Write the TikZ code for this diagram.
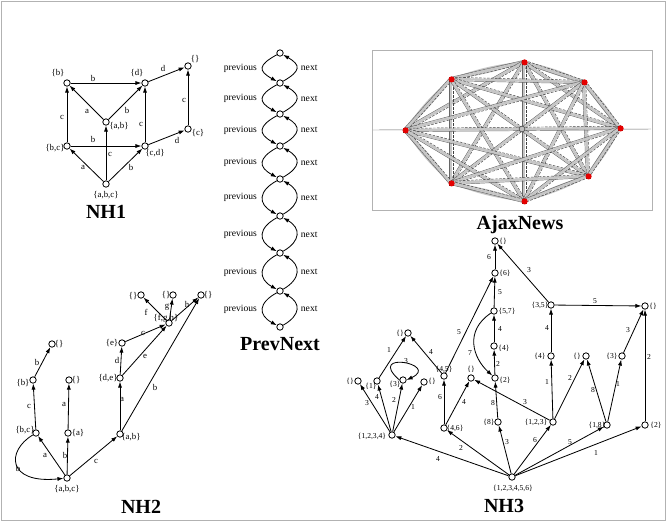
\documentclass[tikz,border=0pt]{standalone}
\usepackage{fontspec}
\setmainfont{Liberation Serif}
\usetikzlibrary{arrows.meta,calc}

\tikzset{
  v/.style={circle,draw,fill=white,inner sep=0pt,minimum size=4.8pt,line width=0.6pt},
  arr/.style={line width=0.62pt,-{Latex[length=4.5pt,width=3.1pt]}},
  lbl/.style={inner sep=0pt,font=\fontsize{6.6}{7}\selectfont},
  lbs/.style={inner sep=0pt,font=\fontsize{5.7}{6}\selectfont},
  pn/.style={inner sep=0pt,font=\fontsize{7.2}{8}\selectfont},
  title/.style={inner sep=0pt,font=\fontsize{15}{16}\selectfont\bfseries},
  web/.style={gray!45,line width=1.8pt},
  webdash/.style={black!75,line width=0.35pt,dash pattern=on 2pt off 1pt},
  webthin/.style={black!60,line width=0.35pt},
}
% vertex with its caption: [caption style]{name}{x,y}{caption x,y}{caption}
\newcommand\vtx[5][lbl]{\node[v] (#2) at (#3) {}; \node[#1] (#2-t) at (#4) {#5};}

\begin{document}
\begin{tikzpicture}[x=0.75pt,y=-0.75pt]
\useasboundingbox (0,0) rectangle (667,522);
\draw[gray!60,line width=0.5pt] (1.5,1.5) rectangle (665.5,520.5);

%% ---------------- NH1 ----------------
\vtx{ab}{67,83}{58,73}{\{b\}}
\vtx{ad}{145,83}{137,73}{\{d\}}
\vtx{ae}{188,66}{195,59}{\{\}}
\vtx{aab}{106,122}{119,126}{\{a,b\}}
\vtx{ac}{188,129}{198,133}{\{c\}}
\vtx{abc}{67,146}{55,148}{\{b,c\}}
\vtx{acd}{145,146}{155,153}{\{c,d\}}
\vtx{aabc}{106,184}{106,195}{\{a,b,c\}}
\draw[arr] (ab) -- (ad) node[lbl] at (93,78) {b};
\draw[arr] (ad) -- (ae) node[lbl] at (163,68) {d};
\draw[arr] (aab) -- (ab) node[lbl] at (87,111) {a};
\draw[arr] (aab) -- (ad) node[lbl] at (127,110) {b};
\draw[arr] (abc) -- (ab) node[lbl] at (62,117) {c};
\draw[arr] (acd) -- (ad) node[lbl] at (141,124) {c};
\draw[arr] (ac) -- (ae) node[lbl] at (184,100) {c};
\draw[arr] (abc) -- (acd) node[lbl] at (93,139) {b};
\draw[arr] (acd) -- (ac) node[lbl] at (177,140) {d};
\draw[arr] (aabc) -- (abc) node[lbl] at (83,167) {a};
\draw[arr] (aabc) -- (aab) node[lbl] at (110,154) {c};
\draw[arr] (aabc) -- (acd) node[lbl] at (131,167) {b};
\node[title] (ttl1) at (106,212) {NH1};

%% ---------------- PrevNext ----------------
\foreach \k/\y in {1/53,2/83,3/114,4/146,5/179,6/216,7/253,8/291,9/327}
  \node[v] (p\k) at (280,\y) {};
\foreach \i/\j in {1/2,2/3,3/4,4/5,5/6,6/7,7/8,8/9}{
  \draw[arr] (p\i) .. controls +(-22,12) and +(-22,-12) .. (p\j)
    node[pn,pos=.5,left=4pt] {previous};
  \draw[arr] (p\j) .. controls +(21,-12) and +(21,12) .. (p\i)
    node[pn,pos=.5,right=3pt] {next};
}
\node[title] (ttl2) at (280,344) {PrevNext};

%% ---------------- AjaxNews ----------------
\coordinate (A1) at (524,62);
\coordinate (A2) at (451,79);
\coordinate (A3) at (584,82);
\coordinate (A4) at (405,130);
\coordinate (A5) at (620,128);
\coordinate (A6) at (451,183);
\coordinate (A7) at (588,176);
\coordinate (A8) at (524,201);
\coordinate (AC) at (522,129);
\draw[gray!60,line width=0.6pt] (372,50) rectangle (652,210);
\draw[webthin] (373,130) -- (651,129);
\foreach \i/\j in {1/3,3/5,5/7,7/8,8/6,6/4,4/2,2/1}{
  \draw[gray!45,line width=0.9pt] (A\i) to[bend left=7] (A\j);
  \draw[black!45,line width=0.3pt,dash pattern=on 2pt off 1pt] (A\i) to[bend left=4] (A\j);
  \draw[gray!45,line width=0.9pt] (A\i) to[bend right=5] (A\j);
}
\foreach \i in {1,...,7}{
  \pgfmathtruncatemacro\kk{\i+1}
  \foreach \j in {\kk,...,8}{
    \draw[web] (A\i) -- (A\j);
    \draw[webdash] ($(A\i)!1.3pt!90:(A\j)$) -- ($(A\j)!1.3pt!-90:(A\i)$);
    \draw[webthin] ($(A\i)!1.3pt!-90:(A\j)$) -- ($(A\j)!1.3pt!90:(A\i)$);
  }
}
\draw[black!70,line width=0.5pt,fill=gray!50] (AC) circle (2.2pt);
\foreach \i in {1,...,8}{
  \fill[black!85] ($(A\i)+(-2.5,-2.5)$) rectangle ($(A\i)+(2.5,2.5)$);
  \fill[red!90!black] ($(A\i)+(0.6,0.4)$) circle (2.3pt);
}
\node[title] (ttl3) at (520,225) {AjaxNews};

%% ---------------- NH2 ----------------
\vtx{babc}{67,478}{67,489}{\{a,b,c\}}
\vtx{bbc}{36,433}{25,430}{\{b,c\}}
\vtx{ba}{68,433}{78,433}{\{a\}}
\vtx{bab}{120,434}{131,437}{\{a,b\}}
\vtx{bb}{33,380}{23,383}{\{b\}}
\vtx{bea}{69,380}{76,380}{\{\}}
\vtx{beb}{52,344}{59,344}{\{\}}
\vtx{bde}{120,378}{108,378}{\{d,e\}}
\vtx{be}{122,343}{112,343}{\{e\}}
\vtx{bfgh}{169,323}{166,318}{\{f,g,h\}}
\vtx{bef}{141,295}{133,296}{\{\}}
\vtx{beg}{173,295}{166,295}{\{\}}
\vtx{beh}{201,295}{208,295}{\{\}}
\draw[arr] (babc) -- (bbc) node[lbl] at (45,455) {a};
\draw[arr] (bbc) .. controls +(-30,18) and +(-60,6) .. (babc) node[lbl] at (18,468) {b};
\draw[arr] (babc) -- (ba) node[lbl] at (65,455) {b};
\draw[arr] (ba) -- (bea) node[lbl] at (64,404) {a};
\draw[arr] (babc) -- (bab) node[lbl] at (96,461) {c};
\draw[arr] (bbc) -- (bb) node[lbl] at (29,406) {c};
\draw[arr] (bb) -- (beb) node[lbl] at (37,362) {b};
\draw[arr] (bab) -- (bde) node[lbl] at (122,399) {a};
\draw[arr] (bab) -- (beh) node[lbl] at (155,387) {b};
\draw[arr] (bde) -- (be) node[lbl] at (117,360) {d};
\draw[arr] (bde) -- (bfgh) node[lbl] at (145,356) {e};
\draw[arr] (be) -- (bfgh) node[lbl] at (143,333) {c};
\draw[arr] (bfgh) -- (bef) node[lbl] at (146,312) {f};
\draw[arr] (bfgh) -- (beg) node[lbl] at (167,307) {g};
\draw[arr] (bfgh) -- (beh) node[lbl] at (187,304) {h};
\node[title] (ttl4) at (141,507) {NH2};

%% ---------------- NH3 ----------------
\vtx[lbs]{h0}{495,241}{503,241}{\{\}}
\vtx[lbs]{h6}{495,273}{505,273}{\{6\}}
\vtx[lbs]{h57}{494,311}{507,311}{\{5,7\}}
\vtx[lbs]{h4}{494,346}{504,348}{\{4\}}
\vtx[lbs]{h2}{495,378}{505,380}{\{2\}}
\vtx[lbs]{hea}{471,378}{471,369}{\{\}}
\vtx[lbs]{heb}{408,333}{400,333}{\{\}}
\vtx[lbs]{h45}{444,376}{444,369}{\{4,5\}}
\vtx[lbs]{hec}{358,381}{350,381}{\{\}}
\vtx[lbs]{h1}{377,381}{371,386}{\{1\}}
\vtx[lbs]{h3}{403,380}{395,384}{\{3\}}
\vtx[lbs]{hed}{424,382}{432,381}{\{\}}
\vtx[lbs]{h1234}{392,435}{372,436}{\{1,2,3,4\}}
\vtx[lbs]{h46}{444,428}{455,428}{\{4,6\}}
\vtx[lbs]{h8}{498,422}{489,422}{\{8\}}
\vtx[lbs]{hall}{512,477}{513,488}{\{1,2,3,4,5,6\}}
\vtx[lbs]{h35}{551,305}{540,305}{\{3,5\}}
\vtx[lbs]{hee}{645,306}{653,306}{\{\}}
\vtx[lbs]{h4b}{551,356}{540,356}{\{4\}}
\vtx[lbs]{hef}{586,356}{577,356}{\{\}}
\vtx[lbs]{h3b}{622,356}{612,356}{\{3\}}
\vtx[lbs]{h123}{553,422}{536,422}{\{1,2,3\}}
\vtx[lbs]{h18}{607,425}{597,425}{\{1,8\}}
\vtx[lbs]{h2b}{645,425}{656,425}{\{2\}}

\draw[arr] (hall) -- (h1234) node[lbs] at (438,459) {4};
\draw[arr] (hall) -- (h46) node[lbs] at (461,448) {2};
\draw[arr] (hall) -- (h8) node[lbs] at (507,442) {3};
\draw[arr] (hall) -- (h123) node[lbs] at (535,440) {6};
\draw[arr] (hall) -- (h18) node[lbs] at (570,442) {5};
\draw[arr] (hall) -- (h2b) node[lbs] at (596,453) {1};

\draw[arr] (h1234) -- (hec) node[lbs] at (367,403) {3};
\draw[arr] (h1234) -- (h1) node[lbs] at (377,397) {4};
\draw[arr] (h1234) -- (h3) node[lbs] at (394,400) {2};
\draw[arr] (h1234) -- (hed) node[lbs] at (413,407) {1};
\draw[arr] (h3.west) .. controls +(-34,-30) and +(34,-16) .. (h3.east)
  node[lbs] at (406,361) {3};
\draw[arr] (h1) -- (heb) node[lbs] at (389,350) {1};
\draw[arr] (h45) -- (heb) node[lbs] at (431,352) {4};
\draw[arr] (h45) -- (h6) node[lbs] at (459,332) {5};
\draw[arr] (h46) -- (h45) node[lbs] at (440,397) {6};
\draw[arr] (h46) -- (hea) node[lbs] at (464,402) {4};
\draw[arr] (h8) -- (h2) node[lbs] at (493,403) {8};
\draw[arr] (h2) -- (h4) node[lbs] at (498,364) {2};
\draw[arr] (h4) -- (h57) node[lbs] at (500,329) {4};
\draw[arr] (h57) .. controls +(-30,20) and +(-22,-20) .. (h2) node[lbs] at (470,353) {7};
\draw[arr] (h57) -- (h6) node[lbs] at (500,292) {5};
\draw[arr] (h6) -- (h0) node[lbs] at (489,257) {6};
\draw[arr] (h35) -- (h0) node[lbs] at (529,270) {3};
\draw[arr] (h35) -- (hee) node[lbs] at (595,301) {5};
\draw[arr] (h4b) -- (h35) node[lbs] at (547,328) {4};
\draw[arr] (h123) -- (h4b) node[lbs] at (547,382) {1};
\draw[arr] (h123) -- (hef) node[lbs] at (570,378) {2};
\draw[arr] (h123) -- (hea) node[lbs] at (525,402) {3};
\draw[arr] (h18) -- (hef) node[lbs] at (593,390) {8};
\draw[arr] (h18) -- (h3b) node[lbs] at (618,384) {1};
\draw[arr] (h3b) -- (hee) node[lbs] at (628,330) {3};
\draw[arr] (h2b) -- (hee) node[lbs] at (649,357) {2};
\node[title] (ttl5) at (504,506) {NH3};
\end{tikzpicture}
\end{document}
